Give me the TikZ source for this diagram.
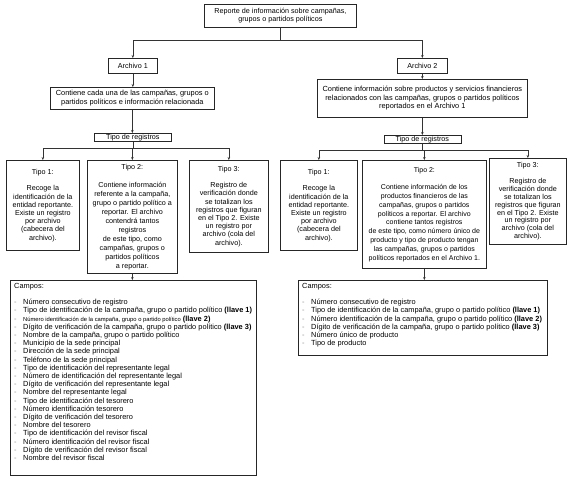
\documentclass[tikz,border=0pt]{standalone}
\usepackage{fontspec}
\setmainfont{Liberation Sans}
\usetikzlibrary{arrows.meta,shadows}
\begin{document}
\begin{tikzpicture}[x=1pt,y=-1pt,
  box/.style={draw=black!85, line width=0.7pt, fill=white, anchor=north west, inner sep=0pt, align=center,
    font=\fontsize{7.2}{8.2}\selectfont,
    drop shadow={shadow xshift=0.8pt, shadow yshift=-0.8pt, fill=black!70, opacity=1}},
  listtext/.style={anchor=north west, inner sep=0pt, align=left, font=\fontsize{7.4}{8.2}\selectfont},
  conn/.style={draw=black!80, line width=0.6pt},
  arr/.style={conn, -{Stealth[length=3pt,width=2.6pt]}}]
\useasboundingbox (0,0) rectangle (569,481);
\newcommand{\bl}{\makebox[9pt][l]{\textcolor{black!45}{-}}}
% top
\node[box, minimum width=152pt, minimum height=23pt] (top) at (204,4) {Reporte de información sobre campañas,\\grupos o partidos políticos};
% left branch
\node[box, minimum width=49pt, minimum height=15pt] (a1) at (108,58) {Archivo 1};
\node[box, minimum width=164pt, minimum height=22pt, font=\fontsize{7.4}{8.6}\selectfont] (c1) at (50,87) {Contiene cada una de las campañas, grupos o\\partidos políticos e información relacionada};
\node[box, minimum width=77pt, minimum height=8pt] (r1) at (94,133) {Tipo de registros};
\node[box, minimum width=73pt, minimum height=90pt] (t11) at (6,160) {Tipo 1:\\[8.2pt]Recoge la\\identificación de la\\entidad reportante.\\Existe un registro\\por archivo\\(cabecera del\\archivo).};
\node[box, minimum width=90pt, minimum height=113pt, font=\fontsize{7.2}{9}\selectfont] (t12) at (87,160) {Tipo 2:\\[9pt]Contiene información\\referente a la campaña,\\grupo o partido político a\\reportar. El archivo\\contendrá tantos\\registros\\de este tipo, como\\campañas, grupos o\\partidos políticos\\a reportar.};
\node[box, minimum width=79pt, minimum height=92pt] (t13) at (189,160) {Tipo 3:\\[8.2pt]Registro de\\verificación donde\\se totalizan los\\registros que figuran\\en el Tipo 2. Existe\\un registro por\\archivo (cola del\\archivo).};
\node[box, minimum width=246pt, minimum height=195pt] (f1) at (10,280) {};
\node[listtext] (f1t) at (14,283) {Campos:\\[8.2pt]
\bl Número consecutivo de registro\\
\bl Tipo de identificación de la campaña, grupo o partido político \textbf{(llave 1)}\\
\bl {\fontsize{5.8}{8.2}\selectfont Número identificación de la campaña, grupo o partido político} \textbf{(llave 2)}\\
\bl Dígito de verificación de la campaña, grupo o partido político \textbf{(llave 3)}\\
\bl Nombre de la campaña, grupo o partido político\\
\bl Municipio de la sede principal\\
\bl Dirección de la sede principal\\
\bl Teléfono de la sede principal\\
\bl Tipo de identificación del representante legal\\
\bl Número de identificación del representante legal\\
\bl Dígito de verificación del representante legal\\
\bl Nombre del representante legal\\
\bl Tipo de identificación del tesorero\\
\bl Número identificación tesorero\\
\bl Dígito de verificación del tesorero\\
\bl Nombre del tesorero\\
\bl Tipo de identificación del revisor fiscal\\
\bl Número identificación del revisor fiscal\\
\bl Dígito de verificación del revisor fiscal\\
\bl Nombre del revisor fiscal};
% right branch
\node[box, minimum width=50pt, minimum height=15pt] (a2) at (397,58) {Archivo 2};
\node[box, minimum width=210pt, minimum height=38pt, font=\fontsize{7.4}{8.6}\selectfont] (c2) at (317,79) {Contiene información sobre productos y servicios financieros\\relacionados con las campañas, grupos o partidos políticos\\reportados en el Archivo 1};
\node[box, minimum width=77pt, minimum height=8pt] (r2) at (383.5,135) {Tipo de registros};
\node[box, minimum width=77pt, minimum height=90pt] (t21) at (280,160) {Tipo 1:\\[8.2pt]Recoge la\\identificación de la\\entidad reportante.\\Existe un registro\\por archivo\\(cabecera del\\archivo).};
\node[box, minimum width=124pt, minimum height=108pt, font=\fontsize{7}{8.8}\selectfont] (t22) at (362,160) {Tipo 2:\\[8.8pt]Contiene información de los\\productos financieros de las\\campañas, grupos o partidos\\políticos a reportar. El archivo\\contiene tantos registros\\de este tipo, como número único de\\producto y tipo de producto tengan\\las campañas, grupos o partidos\\políticos reportados en el Archivo 1.};
\node[box, minimum width=77pt, minimum height=86pt, font=\fontsize{7.2}{7.9}\selectfont] (t23) at (489,158) {Tipo 3:\\[7.9pt]Registro de\\verificación donde\\se totalizan los\\registros que figuran\\en el Tipo 2. Existe\\un registro por\\archivo (cola del\\archivo).};
\node[box, minimum width=249pt, minimum height=75pt] (f2) at (298,280) {};
\node[listtext] (f2t) at (302,283) {Campos:\\[8.2pt]
\bl Número consecutivo de registro\\
\bl Tipo de identificación de la campaña, grupo o partido político \textbf{(llave 1)}\\
\bl Número identificación de la campaña, grupo o partido político \textbf{(llave 2)}\\
\bl Dígito de verificación de la campaña, grupo o partido político \textbf{(llave 3)}\\
\bl Número único de producto\\
\bl Tipo de producto};
% connectors
\draw[arr] (top.south) -- ++(0,13) -| (a1.north);
\draw[arr] (top.south) -- ++(0,13) -| (a2.north);
\draw[arr] (a1.south) -- (a1.south |- c1.north);
\draw[arr] (c1.south) -- (c1.south |- r1.north);
\draw[arr] (r1.south) -- ++(0,7) -| (t11.north);
\draw[arr] (r1.south) -- ++(0,7) -| (t12.north);
\draw[arr] (r1.south) -- ++(0,7) -| (t13.north);
\draw[arr] (t12.south) -- (t12.south |- f1.north);
\draw[arr] (a2.south) -- (a2.south |- c2.north);
\draw[arr] (c2.south) -- (c2.south |- r2.north);
\draw[arr] (r2.south) -- ++(0,7) -| (t21.north);
\draw[arr] (r2.south) -- ++(0,7) -| (t22.north);
\draw[arr] (r2.south) -- ++(0,7) -| (t23.north);
\draw[arr] (t22.south) -- (t22.south |- f2.north);
\end{tikzpicture}
\end{document}
